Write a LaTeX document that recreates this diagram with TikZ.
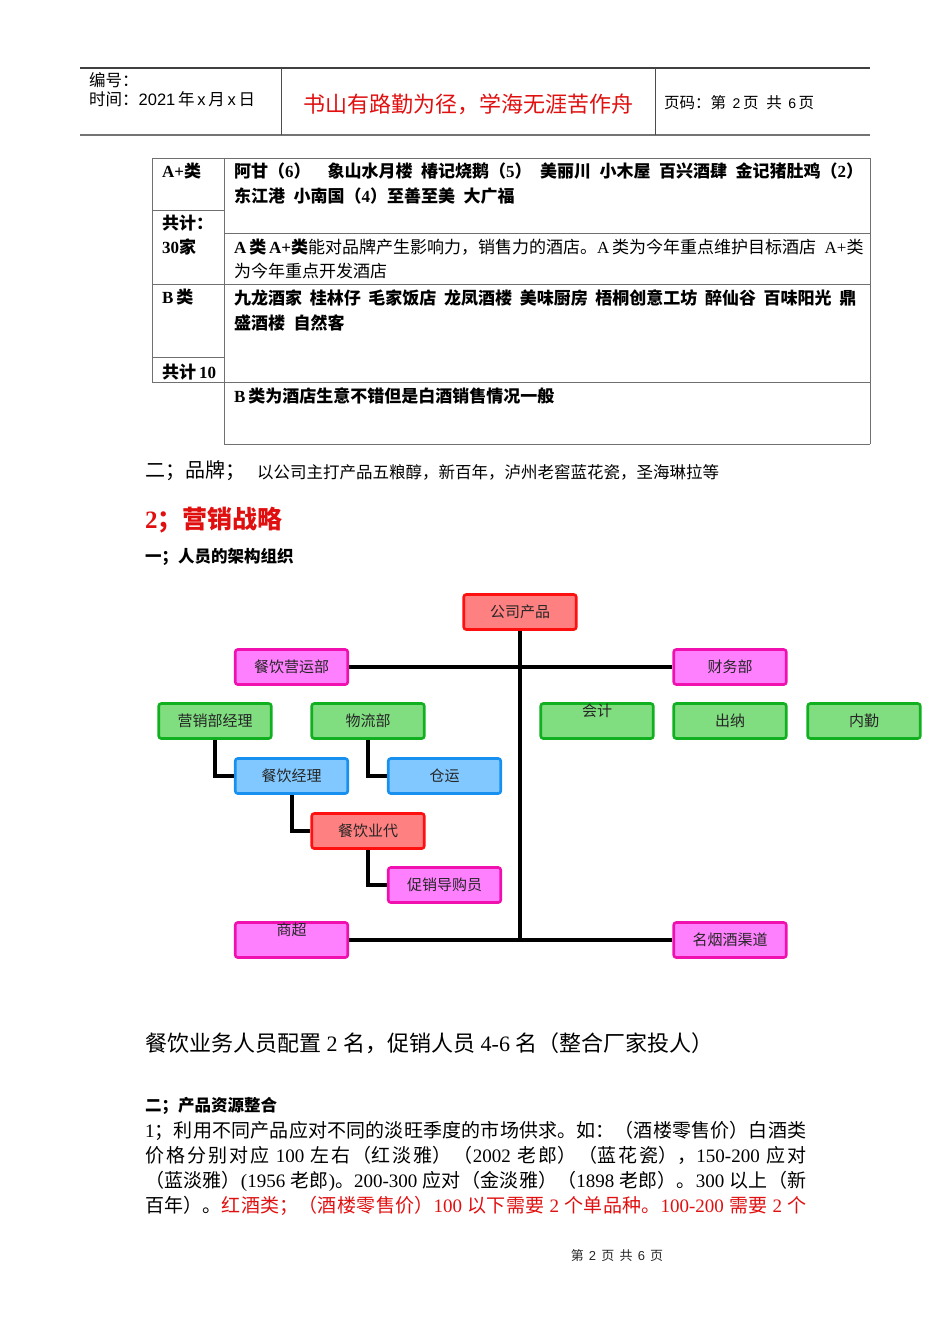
\documentclass[tikz,border=0pt]{standalone}
\usepackage{fontspec}
\setmainfont{Noto Sans CJK SC}
\newfontfamily\tms{Liberation Serif}
\newfontfamily\ars{Liberation Sans}
\newcommand\tm[1]{{\tms #1}}
\newcommand\sz[1]{\fontsize{#1}{#1}\selectfont}
\XeTeXlinebreaklocale "zh"
\XeTeXlinebreakskip=0pt plus 3pt minus 0.5pt
\definecolor{redfill}{HTML}{FF8080}
\definecolor{redline}{HTML}{FF1010}
\definecolor{pinkfill}{HTML}{FF80FF}
\definecolor{pinkline}{HTML}{F010B0}
\definecolor{greenfill}{HTML}{80DD80}
\definecolor{greenline}{HTML}{10B020}
\definecolor{bluefill}{HTML}{80C8FF}
\definecolor{blueline}{HTML}{1890F0}
\definecolor{tline}{HTML}{707070}
\definecolor{txtred}{HTML}{E01010}
\begin{document}
\begin{tikzpicture}[x=1pt,y=-1pt,
  txt/.style={anchor=west, inner sep=0pt, text=black},
  cell/.style={txt, font=\sz{17}\bfseries},
  orgbox/.style={draw, line width=2.6pt, rounded corners=2.5pt, minimum width=112.5pt,
    minimum height=35pt, inner sep=0pt, font=\sz{15}, text=black!85},
  redbox/.style={orgbox, fill=redfill, draw=redline},
  pinkbox/.style={orgbox, fill=pinkfill, draw=pinkline},
  greenbox/.style={orgbox, fill=greenfill, draw=greenline},
  bluebox/.style={orgbox, fill=bluefill, draw=blueline},
  toptext/.style={text height=10pt, text depth=20pt},
  conn/.style={line width=4pt, black, line join=miter},
  tl/.style={tline, line width=1pt}]
\useasboundingbox (0,0) rectangle (950,1344);

% header
\draw[black!75, line width=1.2pt] (80,68) -- (870,68);
\draw[black!55, line width=1.6pt] (80,135) -- (870,135);
\draw[black!70, line width=1pt] (281,68) -- (281,135);
\draw[black!70, line width=1pt] (655,68) -- (655,135);
\node[txt, font=\sz{16.5}] (bh) at (89,80) {编号：};
\node[txt, font=\sz{16.5}] (sj) at (89,99) {时间：{\ars 2021}\,年\,{\ars x}\,月\,{\ars x}\,日};
\node[inner sep=0pt, text=txtred, font=\sz{22}] (title) at (468,104) {书山有路勤为径，学海无涯苦作舟};
\node[txt, font=\sz{15.5}] (ym) at (664,103) {页码：第\,{\ars\sz{14} 2}\,页\hspace{0.5em}共\,{\ars\sz{14} 6}\,页};

% table
\draw[tl] (152,158) -- (870,158);
\draw[tl] (152,158) -- (152,382);
\draw[tl] (224,158) -- (224,444);
\draw[tl] (870,158) -- (870,444);
\draw[tl] (152,210) -- (224,210);
\draw[tl] (152,357) -- (224,357);
\draw[tl] (224,233) -- (870,233);
\draw[tl] (152,284) -- (870,284);
\draw[tl] (152,382) -- (870,382);
\draw[tl] (224,444) -- (870,444);

\node[cell] (c1) at (162,171) {\tm{A+}类};
\node[cell] (c2) at (162,223) {共计：};
\node[cell] (c3) at (162,247) {\tm{30}家};
\node[cell] (c4) at (162,297) {\tm{B}\,类};
\node[cell] (c5) at (162,372) {共计\,\tm{10}};
\node[cell] (r1) at (234,171) {阿甘（\tm{6}）\hspace{1em}象山水月楼\hspace{.5em}椿记烧鹅（\tm{5}）\hspace{.5em}美丽川\hspace{.5em}小木屋\hspace{.5em}百兴酒肆\hspace{.5em}金记猪肚鸡（\tm{2}）};
\node[cell] (r2) at (234,196) {东江港\hspace{.5em}小南国（\tm{4}）至善至美\hspace{.5em}大广福};
\node[cell] (r3) at (234,247) {\tm{A}\,类\,\tm{A+}类\mdseries 能对品牌产生影响力，销售力的酒店。\tm{A}\,类为今年重点维护目标酒店\hspace{.5em}\tm{A+}类};
\node[cell, font=\sz{17}] (r4) at (234,271) {为今年重点开发酒店};
\node[cell] (r5) at (234,298) {九龙酒家\hspace{.45em}桂林仔\hspace{.45em}毛家饭店\hspace{.45em}龙凤酒楼\hspace{.45em}美味厨房\hspace{.45em}梧桐创意工坊\hspace{.45em}醉仙谷\hspace{.45em}百味阳光\hspace{.45em}鼎};
\node[cell] (r6) at (234,323) {盛酒楼\hspace{.5em}自然客};
\node[cell] (r7) at (234,396) {\tm{B}\,类为酒店生意不错但是白酒销售情况一般};

% brand & headings
\node[txt, font=\sz{20}] (pp) at (145,471) {二；品牌；};
\node[txt, font=\sz{16.5}] (ppt) at (257,472) {以公司主打产品五粮醇，新百年，泸州老窖蓝花瓷，圣海琳拉等};
\node[txt, text=txtred, font=\sz{25}\bfseries] (h2) at (145,520) {\tm{2}；营销战略};
\node[txt, font=\sz{16.5}\bfseries] (h3) at (145,557) {一；人员的架构组织};

% org chart
\node[redbox] (gs) at (520,612) {公司产品};
\node[pinkbox] (cyyy) at (291.5,667) {餐饮营运部};
\node[pinkbox] (cw) at (730,667) {财务部};
\node[greenbox] (yx) at (215,721) {营销部经理};
\node[greenbox] (wl) at (368,721) {物流部};
\node[greenbox, toptext] (kj) at (597,721) {会计};
\node[greenbox] (cn) at (730,721) {出纳};
\node[greenbox] (nq) at (864,721) {内勤};
\node[bluebox] (cyjl) at (291.5,776) {餐饮经理};
\node[bluebox] (cy) at (444.5,776) {仓运};
\node[redbox] (yd) at (368,831) {餐饮业代};
\node[pinkbox] (cx) at (444.5,885) {促销导购员};
\node[pinkbox, toptext] (sc) at (291.5,940) {商超};
\node[pinkbox] (myj) at (730,940) {名烟酒渠道};
\coordinate (vbot) at (520,940);

\draw[conn] (gs.south) -- (vbot);
\draw[conn] (cyyy.east) -- (cw.west);
\draw[conn] (sc.east) -- (myj.west);
\draw[conn] (yx.south) |- (cyjl.west);
\draw[conn] (wl.south) |- (cy.west);
\draw[conn] (cyjl.south) |- (yd.west);
\draw[conn] (yd.south) |- (cx.west);

% lower text
\node[txt, font=\sz{22}] (pz) at (145,1043) {餐饮业务人员配置\tm{ 2 }名，促销人员\tm{ 4-6 }名（整合厂家投人）};
\node[txt, font=\sz{16.5}\bfseries] (h4) at (145,1106) {二；产品资源整合};
\node[anchor=north west, inner sep=0pt, text width=661pt, align=justify,
  font=\fontsize{19}{25}\selectfont] (para) at (145,1121) {\parfillskip=0pt
\tm{1}；利用不同产品应对不同的淡旺季度的市场供求。如：（酒楼零售价）白酒类\linebreak
价格分别对应\tm{ 100 }左右（红淡雅）（\tm{2002 }老郎）（蓝花瓷），\tm{150-200 }应对\linebreak
（蓝淡雅）\tm{(1956 }老郎\tm{)}。\tm{200-300 }应对（金淡雅）（\tm{1898 }老郎）。\tm{300 }以上（新\linebreak
百年）。\textcolor{txtred}{红酒类；（酒楼零售价）\tm{100 }以下需要\tm{ 2 }个单品种。\tm{100-200 }需要\tm{ 2 }个}\par};

\node[inner sep=0pt, font=\sz{13}, text=black!85] (ft) at (617,1256) {第\hspace{.4em}{\ars 2}\hspace{.4em}页\hspace{.4em}共\hspace{.4em}{\ars 6}\hspace{.4em}页};
\end{tikzpicture}
\end{document}
